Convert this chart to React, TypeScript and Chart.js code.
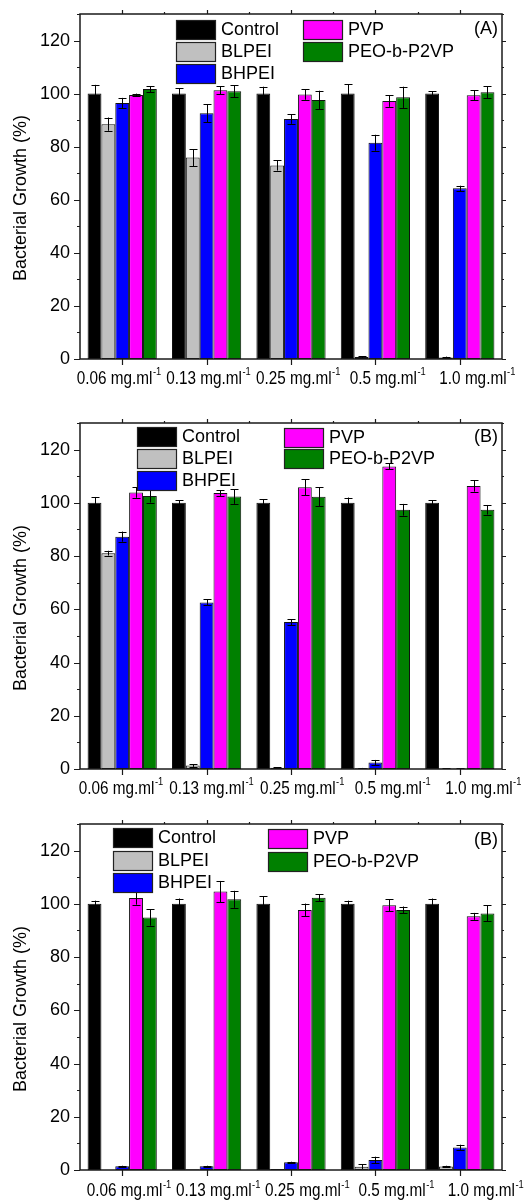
import React, { useEffect, useRef } from "react";
import { Chart, registerables } from "chart.js";

Chart.register(...registerables);

// ---------- data ----------
const categories = ["0.06 mg.ml", "0.13 mg.ml", "0.25 mg.ml", "0.5 mg.ml", "1.0 mg.ml"];
const unitSuperscript = "-1";
const seriesNames = ["Control", "BLPEI", "BHPEI", "PVP", "PEO-b-P2VP"];
const seriesColors = ["#000000", "#c0c0c0", "#0000ff", "#ff00ff", "#008000"];
const yTickValues = [0, 20, 40, 60, 80, 100, 120];
const yAxisTitle = "Bacterial Growth (%)";
const panelTags = ["(A)", "(B)", "(B)"];

// Panel A
const controlA = [100, 100, 100, 100, 100];
const controlAErr = [3.3, 2.0, 2.6, 3.6, 0.8];
const blpeiA = [88.5, 75.9, 72.9, 0.8, 0.6];
const blpeiAErr = [2.5, 3.2, 1.9, 0.3, 0.3];
const bhpeiA = [96.5, 92.6, 90.4, 81.5, 64.3];
const bhpeiAErr = [1.9, 3.4, 1.8, 3.0, 1.0];
const pvpA = [99.5, 101.3, 99.7, 97.2, 99.4];
const pvpAErr = [0.5, 1.5, 2.0, 2.2, 1.8];
const peoA = [101.7, 100.9, 97.6, 98.6, 100.5];
const peoAErr = [1.1, 2.3, 3.5, 4.0, 2.2];

// Panel B (middle)
const controlB = [100, 100, 100, 100, 100];
const controlBErr = [2.2, 1.0, 1.4, 2.0, 1.0];
const blpeiB = [81.1, 1.3, 0.5, 0.3, 0.2];
const blpeiBErr = [0.9, 0.5, 0.1, 0.1, 0.1];
const bhpeiB = [87.3, 62.6, 55.2, 2.4, 0.2];
const bhpeiBErr = [1.9, 1.1, 1.1, 1.0, 0.1];
const pvpB = [103.9, 103.7, 105.9, 113.7, 106.3];
const pvpBErr = [2.0, 1.1, 3.0, 1.1, 2.1];
const peoB = [102.6, 102.4, 102.3, 97.4, 97.4];
const peoBErr = [2.5, 2.8, 3.6, 2.2, 1.8];

// Panel B (bottom)
const controlC = [100, 100, 100, 100, 100];
const controlCErr = [1.2, 2.0, 2.9, 1.2, 2.0];
const blpeiC = [0, 0.3, 0.4, 1.2, 1.3];
const blpeiCErr = [0, 0, 0, 1.0, 0.3];
const bhpeiC = [1.4, 1.4, 2.9, 3.8, 8.5];
const bhpeiCErr = [0.2, 0.2, 0.2, 1.2, 1.0];
const pvpC = [102.2, 104.6, 97.7, 99.5, 95.3];
const pvpCErr = [2.5, 4.0, 2.4, 2.3, 1.3];
const peoC = [94.9, 101.7, 102.3, 97.7, 96.4];
const peoCErr = [3.1, 3.2, 1.3, 1.3, 3.0];

const panelValues = [
  [controlA, blpeiA, bhpeiA, pvpA, peoA],
  [controlB, blpeiB, bhpeiB, pvpB, peoB],
  [controlC, blpeiC, bhpeiC, pvpC, peoC],
];
const panelErrors = [
  [controlAErr, blpeiAErr, bhpeiAErr, pvpAErr, peoAErr],
  [controlBErr, blpeiBErr, bhpeiBErr, pvpBErr, peoBErr],
  [controlCErr, blpeiCErr, bhpeiCErr, pvpCErr, peoCErr],
];

// ---------- layout / style ----------
const FONT = "'Liberation Sans', Arial, Helvetica, sans-serif";
const W = 529;
const H = 400;
const layouts = [
  { top: 0, padTop: 14, xAxisH: 41, labelDy: 20, off0: -3.5, step: 5.2,
    col1: { boxX: 176, textX: 221, rows: [20, 42, 64] },
    col2: { boxX: 303, textX: 348, rows: [20, 42] }, tagY: 29 },
  { top: 400, padTop: 23, xAxisH: 31, labelDy: 20, off0: -1.5, step: 6.2,
    col1: { boxX: 137, textX: 182, rows: [27, 49, 71] },
    col2: { boxX: 284, textX: 329, rows: [28, 49] }, tagY: 37 },
  { top: 800, padTop: 24, xAxisH: 30, labelDy: 21.5, off0: 6.5, step: 4.8,
    col1: { boxX: 113, textX: 158, rows: [28, 51, 73] },
    col2: { boxX: 268, textX: 313, rows: [29, 52] }, tagY: 40 },
];

function makeDecor(p: number) {
  const L = layouts[p];
  return {
    id: "decor" + p,
    afterDatasetsDraw(chart: any) {
      const ctx = chart.ctx;
      const ys = chart.scales.y;
      const area = chart.chartArea;
      ctx.save();
      ctx.beginPath();
      ctx.rect(area.left, area.top - 1, area.right - area.left, area.bottom - area.top + 1);
      ctx.clip();
      ctx.strokeStyle = "#000";
      ctx.lineWidth = 1;
      panelValues[p].forEach((vals, i) => {
        const meta = chart.getDatasetMeta(i);
        vals.forEach((v, j) => {
          const e = panelErrors[p][i][j];
          if (!e) return;
          const bar = meta.data[j];
          const x = Math.round(bar.x) + 0.5;
          const yT = ys.getPixelForValue(v + e);
          const yB = ys.getPixelForValue(Math.max(0, v - e));
          ctx.beginPath();
          ctx.moveTo(x, yT);
          ctx.lineTo(x, yB);
          ctx.moveTo(x - 4, Math.round(yT) + 0.5);
          ctx.lineTo(x + 4, Math.round(yT) + 0.5);
          ctx.moveTo(x - 4, Math.round(yB) + 0.5);
          ctx.lineTo(x + 4, Math.round(yB) + 0.5);
          ctx.stroke();
        });
      });
      ctx.restore();
    },
    afterDraw(chart: any) {
      const ctx = chart.ctx;
      const a = chart.chartArea;
      const xs = chart.scales.x;
      const ys = chart.scales.y;
      ctx.save();
      // frame
      ctx.strokeStyle = "#1a1a1a";
      ctx.lineWidth = 1.5;
      ctx.strokeRect(a.left, a.top, a.right - a.left, a.bottom - a.top);
      // y ticks
      ctx.lineWidth = 1.2;
      for (let v = 0; v <= 130; v += 10) {
        const y = Math.round(ys.getPixelForValue(v)) + 0.5;
        const major = v % 20 === 0;
        ctx.beginPath();
        ctx.moveTo(a.left, y);
        ctx.lineTo(a.left - (major ? 6 : 3), y);
        ctx.moveTo(a.right, y);
        ctx.lineTo(a.right + (major ? 4 : 2), y);
        ctx.stroke();
      }
      // x ticks
      const n = categories.length;
      for (let j = 0; j < n; j++) {
        const x = Math.round(xs.getPixelForValue(j)) + 0.5;
        ctx.beginPath();
        ctx.moveTo(x, a.bottom);
        ctx.lineTo(x, a.bottom + 6);
        ctx.moveTo(x, a.top);
        ctx.lineTo(x, a.top - 4);
        ctx.stroke();
        if (j < n - 1) {
          const xb = Math.round((xs.getPixelForValue(j) + xs.getPixelForValue(j + 1)) / 2) + 0.5;
          ctx.beginPath();
          ctx.moveTo(xb, a.top);
          ctx.lineTo(xb, a.top - 2);
          ctx.stroke();
        }
      }
      // x labels with superscript
      ctx.fillStyle = "#000";
      ctx.textBaseline = "middle";
      ctx.textAlign = "left";
      const squeeze = 0.85;
      categories.forEach((c, j) => {
        ctx.font = `18px ${FONT}`;
        const w = ctx.measureText(c).width * squeeze;
        ctx.font = `11px ${FONT}`;
        const s = ctx.measureText(unitSuperscript).width * squeeze;
        const cx = xs.getPixelForValue(j) + L.off0 + L.step * j;
        const x0 = cx - (w + s) / 2;
        const y = a.bottom + L.labelDy;
        ctx.font = `18px ${FONT}`;
        ctx.fillText(c, x0, y, w);
        ctx.font = `11px ${FONT}`;
        ctx.fillText(unitSuperscript, x0 + w + 0.5, y - 7, s);
      });
      // y title
      ctx.font = `18px ${FONT}`;
      ctx.save();
      ctx.translate(21, a.bottom - 78);
      ctx.rotate(-Math.PI / 2);
      ctx.textAlign = "left";
      ctx.textBaseline = "middle";
      ctx.fillText(yAxisTitle, 0, 0);
      ctx.restore();
      // legend
      const entries = [
        { i: 0, col: L.col1, r: 0 },
        { i: 1, col: L.col1, r: 1 },
        { i: 2, col: L.col1, r: 2 },
        { i: 3, col: L.col2, r: 0 },
        { i: 4, col: L.col2, r: 1 },
      ];
      const boxW = 39;
      const boxH = 19;
      entries.forEach(({ i, col, r }) => {
        const y = col.rows[r];
        ctx.fillStyle = seriesColors[i];
        ctx.fillRect(col.boxX, y, boxW, boxH);
        ctx.strokeStyle = "#222";
        ctx.lineWidth = 1.2;
        ctx.strokeRect(col.boxX + 0.5, y + 0.5, boxW, boxH);
        ctx.fillStyle = "#000";
        ctx.font = `18px ${FONT}`;
        ctx.textAlign = "left";
        ctx.textBaseline = "middle";
        ctx.fillText(seriesNames[i], col.textX, y + boxH / 2 + 1);
      });
      // tag
      ctx.textAlign = "right";
      ctx.fillText(panelTags[p], 498, L.tagY);
      ctx.restore();
    },
  };
}

function Panel({ p }: { p: number }) {
  const ref = useRef<HTMLCanvasElement | null>(null);
  useEffect(() => {
    const L = layouts[p];
    const chart = new Chart(ref.current as HTMLCanvasElement, {
      type: "bar",
      data: {
        labels: categories,
        datasets: seriesNames.map((name, i) => ({
          label: name,
          data: panelValues[p][i],
          backgroundColor: seriesColors[i],
          borderColor: "#111",
          borderWidth: 1,
          borderSkipped: false,
          categoryPercentage: 0.82,
          barPercentage: 1.0,
        })),
      },
      options: {
        responsive: false,
        animation: false,
        devicePixelRatio: 1,
        layout: { padding: { top: L.padTop, right: 27, left: 0, bottom: 0 } },
        plugins: { legend: { display: false }, tooltip: { enabled: false }, title: { display: false } },
        scales: {
          x: {
            type: "category",
            offset: true,
            grid: { display: false, drawTicks: false },
            border: { display: false },
            ticks: { display: false },
            afterFit: (s: any) => {
              s.height = L.xAxisH;
              s.paddingLeft = 0;
              s.paddingRight = 0;
            },
          },
          y: {
            min: 0,
            max: 130,
            grid: { display: false, drawTicks: false },
            border: { display: false },
            afterBuildTicks: (s: any) => {
              s.ticks = yTickValues.map((v) => ({ value: v }));
            },
            ticks: {
              color: "#000",
              padding: 10,
              font: { family: FONT, size: 18 },
            },
            afterFit: (s: any) => {
              s.width = 80;
              s.paddingTop = 0;
              s.paddingBottom = 0;
            },
          },
        },
      } as any,
      plugins: [makeDecor(p)],
    });
    return () => chart.destroy();
  }, [p]);
  const L = layouts[p];
  return (
    <canvas
      ref={ref}
      width={W}
      height={H}
      style={{ position: "absolute", left: 0, top: L.top, width: W, height: H }}
    />
  );
}

export default function App() {
  return (
    <div style={{ position: "absolute", left: 0, top: 0, width: W, height: 1200, background: "#fff" }}>
      {[0, 1, 2].map((p) => (
        <Panel key={p} p={p} />
      ))}
    </div>
  );
}
